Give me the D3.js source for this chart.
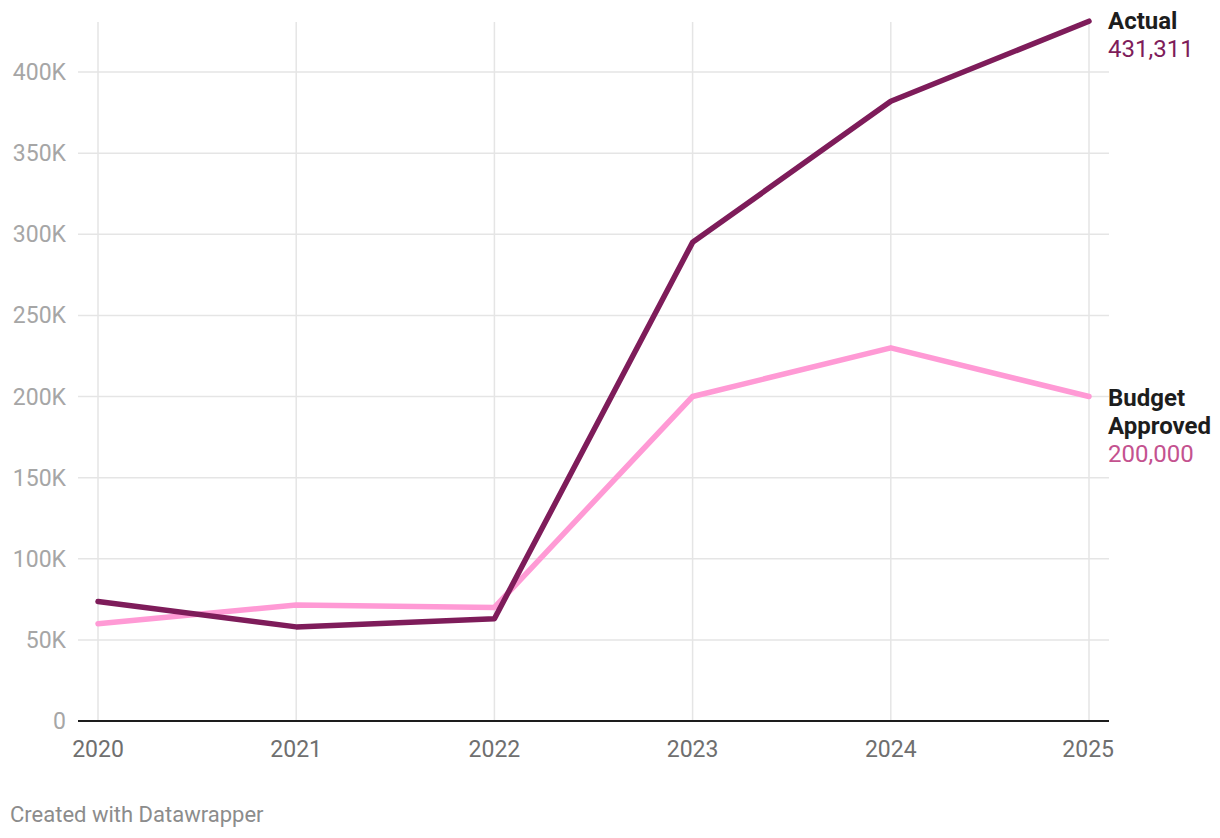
<!DOCTYPE html>
<html><head><meta charset="utf-8">
<script src="https://cdn.jsdelivr.net/npm/d3@7"></script>
<style>
body{margin:0;background:#fff;font-family:Roboto,"Noto Sans",sans-serif;}
</style></head>
<body><svg id="c" width="1220" height="838"></svg>
<script>
const years = [2020, 2021, 2022, 2023, 2024, 2025];
const actual = [73600, 58000, 63000, 295000, 382000, 431311];
const budget = [60000, 71500, 70000, 200000, 230000, 200000];
const yTicks = [0, 50000, 100000, 150000, 200000, 250000, 300000, 350000, 400000];
const seriesNames = ["Actual", "Budget Approved"];

const svg = d3.select("#c");
const x = d3.scaleLinear().domain([2020, 2025]).range([98, 1089]);
const y = d3.scaleLinear().domain([0, 400000]).range([721, 72]);

svg.append("g").selectAll("line").data(yTicks.filter(d=>d>0)).join("line")
  .attr("x1", 78).attr("x2", 1109).attr("y1", d=>y(d)).attr("y2", d=>y(d))
  .attr("stroke", "#e5e5e5").attr("stroke-width", 1.5);
svg.append("g").selectAll("line").data(years).join("line")
  .attr("x1", d=>x(d)).attr("x2", d=>x(d)).attr("y1", 22).attr("y2", 721)
  .attr("stroke", "#e5e5e5").attr("stroke-width", 1.5);

svg.append("g").selectAll("text").data(yTicks).join("text")
  .attr("x", 66).attr("y", d=>y(d)).attr("dy", "0.35em")
  .attr("text-anchor", "end").attr("fill", "#a6a6a6").attr("font-size", 23)
  .text(d => d === 0 ? "0" : (d/1000) + "K");

svg.append("line").attr("x1", 78).attr("x2", 1109).attr("y1", y(0)).attr("y2", y(0))
  .attr("stroke", "#1d1d1d").attr("stroke-width", 2);

svg.append("g").selectAll("text").data(years).join("text")
  .attr("x", d=>x(d)).attr("y", 757)
  .attr("text-anchor", d => d===2025 ? "end" : "middle")
  .attr("dx", d => d===2025 ? 25 : 0)
  .attr("fill", "#6f6f6f").attr("font-size", 23)
  .text(d => d);

const line = d3.line().x((d,i)=>x(years[i])).y(d=>y(d));
svg.append("path").datum(budget).attr("d", line).attr("fill","none")
  .attr("stroke", "#ff9ad5").attr("stroke-width", 5.5).attr("stroke-linejoin","round").attr("stroke-linecap","round");
svg.append("path").datum(actual).attr("d", line).attr("fill","none")
  .attr("stroke", "#7e1c5a").attr("stroke-width", 5.5).attr("stroke-linejoin","round").attr("stroke-linecap","round");

const fmt = d3.format(",");
const lx = 1108;
const a = svg.append("text").attr("x", lx).attr("font-size", 24);
a.append("tspan").attr("x", lx).attr("y", 29).attr("font-weight", 700).attr("fill", "#1d1d1d").text(seriesNames[0]);
a.append("tspan").attr("x", lx).attr("y", 57).attr("fill", "#7e1c5a").text(fmt(actual[5]));
const b = svg.append("text").attr("x", lx).attr("font-size", 24);
b.append("tspan").attr("x", lx).attr("y", 406).attr("font-weight", 700).attr("fill", "#1d1d1d").text("Budget");
b.append("tspan").attr("x", lx).attr("y", 434).attr("font-weight", 700).attr("fill", "#1d1d1d").text("Approved");
b.append("tspan").attr("x", lx).attr("y", 462).attr("fill", "#c4528f").text(fmt(budget[5]));

svg.append("text").attr("x", 10).attr("y", 822).attr("font-size", 22).attr("fill", "#8c8c8c")
  .text("Created with Datawrapper");
</script></body></html>
